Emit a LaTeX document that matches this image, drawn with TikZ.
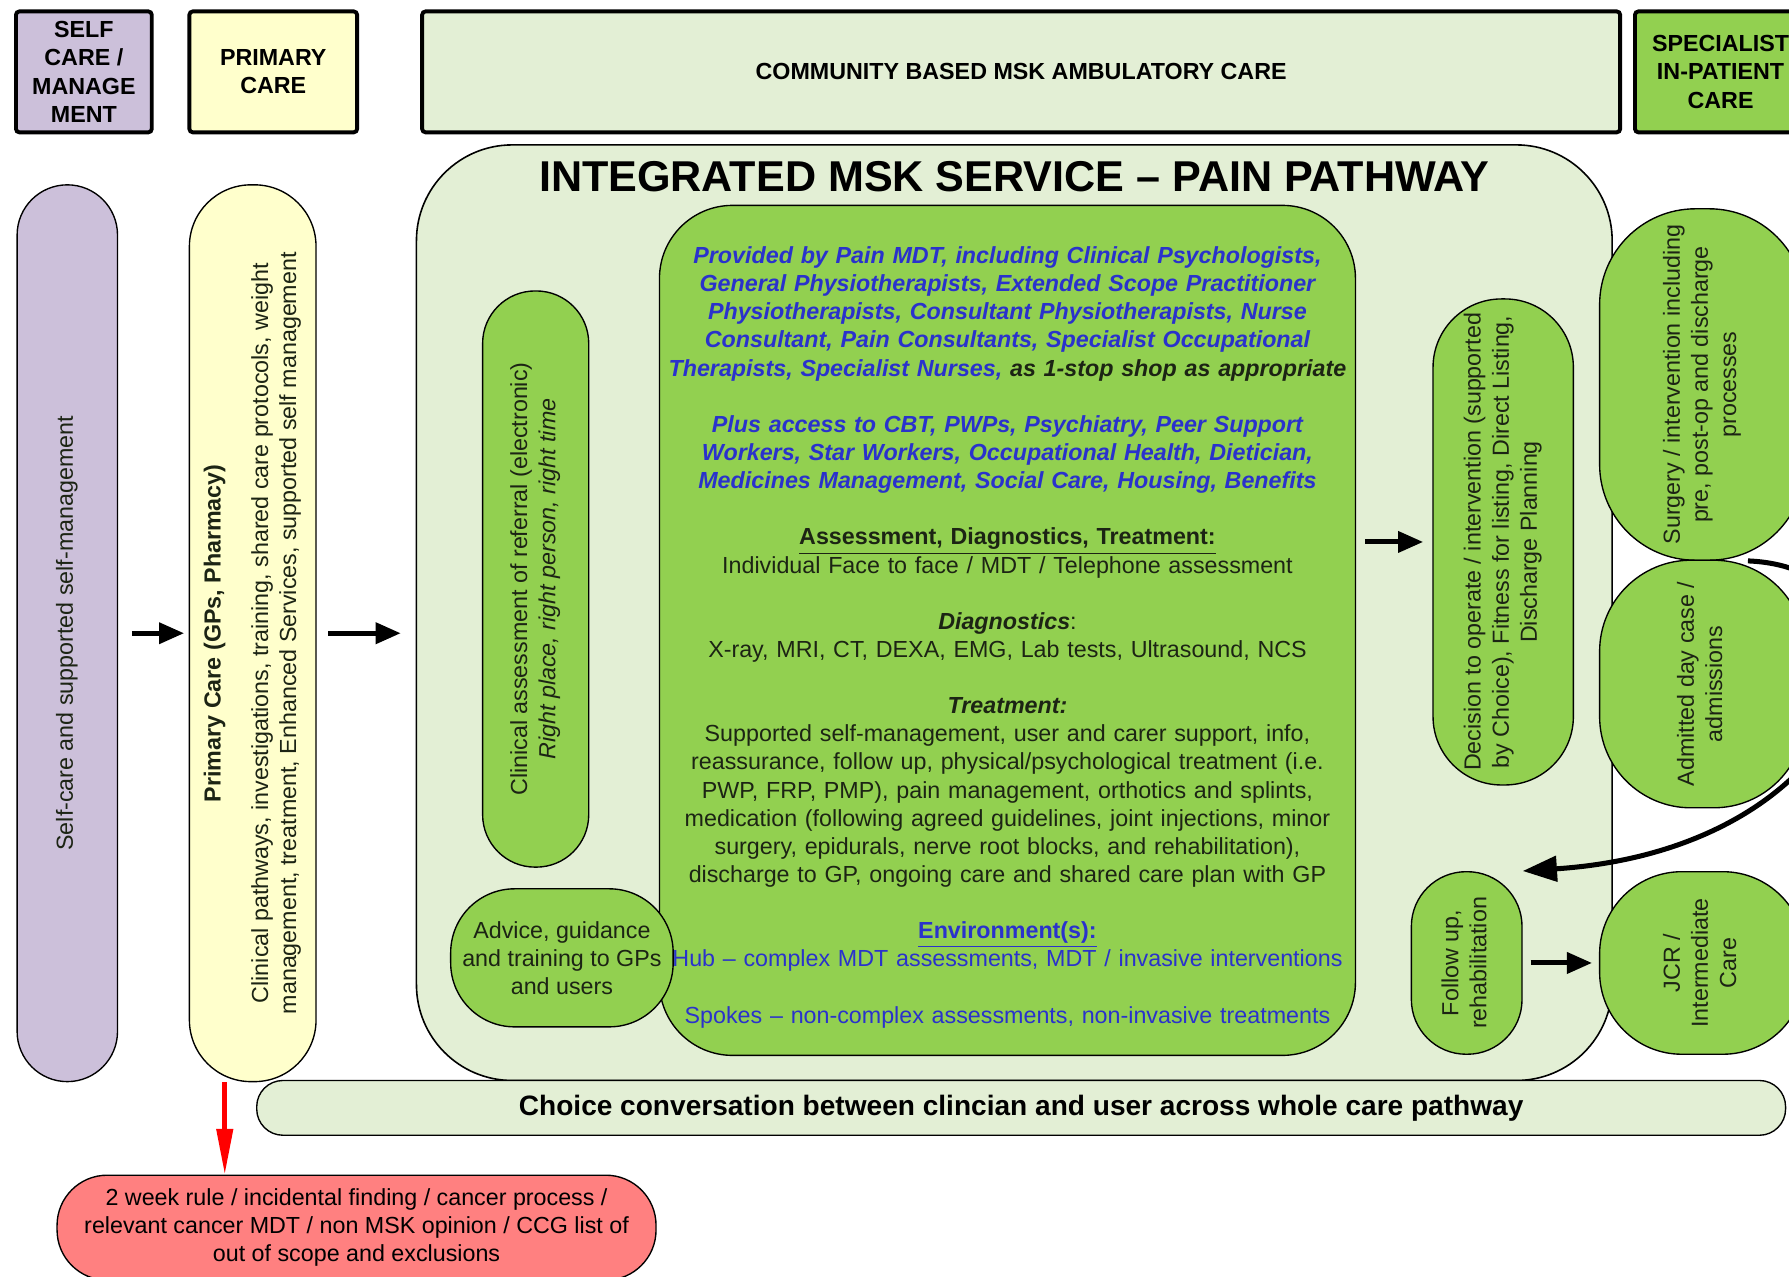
\documentclass[tikz,border=0pt]{standalone}
\usepackage{fontspec}
\setmainfont{Liberation Sans}
\usepackage{graphicx}
\usepackage{tikz}
\usetikzlibrary{arrows.meta}
\definecolor{figline}{RGB}{0,0,0}
\definecolor{selfcol}{RGB}{204,192,218}
\definecolor{primcol}{RGB}{255,255,204}
\definecolor{commcol}{RGB}{227,239,213}
\definecolor{speccol}{RGB}{146,208,80}
\definecolor{excol}{RGB}{255,128,128}
\definecolor{txtblue}{RGB}{42,50,204}
\definecolor{txtdark}{RGB}{28,36,20}
\newcommand{\vlines}[1]{\rotatebox{90}{\begin{tabular}{@{}c@{}}#1\end{tabular}}}
\tikzset{
  hdr/.style   ={draw=figline, line width=1.7pt, rounded corners=1.5pt, minimum height=53pt, align=center, inner sep=1pt, font=\fontsize{10.2}{12.4}\selectfont\bfseries},
  pill/.style  ={draw=figline, line width=0.6pt, inner sep=0pt, align=center, text=txtdark, font=\fontsize{10.2}{12.33}\selectfont},
  ptr/.style   ={draw=figline, line width=2.2pt, -{Triangle[length=11pt,width=9pt]}},
  ptrred/.style={draw=red, line width=2pt, -{Triangle[length=20pt,width=7pt]}},
  ptrbig/.style={draw=figline, line width=2.2pt, -{Triangle[length=15pt,width=11pt]}},
}
\begin{document}
\begin{tikzpicture}[x=0.5pt,y=-0.5pt]
  \useasboundingbox (0,0) rectangle (1568,1119);
  \clip (0,0) rectangle (1568,1119);
  \node[hdr, fill=selfcol, minimum width=59.5pt] (hself) at (73.5,63) {SELF\\CARE /\\MANAGE\\MENT};
  \node[hdr, fill=primcol, minimum width=73.5pt] (hprim) at (239.5,63) {PRIMARY\\CARE};
  \node[hdr, fill=commcol, minimum width=525pt] (hcomm) at (895,63) {COMMUNITY BASED MSK AMBULATORY CARE};
  \node[hdr, fill=speccol, minimum width=75pt] (hspec) at (1508,63) {SPECIALIST\\IN-PATIENT\\CARE};
  \node[pill, fill=selfcol, rounded corners=22pt, minimum width=44pt, minimum height=393pt] (selfpill) at (59,555)
    {\vlines{Self-care and supported self-management}};
  \node[pill, fill=primcol, rounded corners=27pt, minimum width=55.5pt, minimum height=393pt] (primpill) at (221.5,555)
    {\vlines{\textbf{Primary Care (GPs, Pharmacy)}\\[8.5pt]
      Clinical pathways, investigations, training, shared care protocols, weight\\
      management, treatment, Enhanced Services, supported self management}};
  \node[draw=figline, line width=0.7pt, fill=commcol, rounded corners=42pt, minimum width=524pt, minimum height=410pt] (intbox) at (889,537) {};
  \node[font=\fontsize{18.9}{21}\selectfont\bfseries] (title) at (889,155) {INTEGRATED MSK SERVICE – PAIN PATHWAY};
  \node[pill, fill=speccol, rounded corners=23pt, minimum width=46.5pt, minimum height=252.5pt] (clinpill) at (469.5,507.5)
    {\vlines{Clinical assessment of referral (electronic)\\ \textit{Right place, right person, right time}}};
  \node[pill, fill=speccol, rounded corners=32pt, text width=305pt, minimum height=372.5pt] (mainbox) at (883,552.5) {%
    {\color{txtblue}\bfseries\itshape \rule{0pt}{13.5pt}Provided by Pain MDT, including Clinical Psychologists,\\
    General Physiotherapists, Extended Scope Practitioner\\
    Physiotherapists, Consultant Physiotherapists, Nurse\\
    Consultant, Pain Consultants, Specialist Occupational\\
    Therapists, Specialist Nurses,}\textbf{\textit{ as 1-stop shop as appropriate}}\\[12.33pt]
    {\color{txtblue}\bfseries\itshape Plus access to CBT, PWPs, Psychiatry, Peer Support\\
    Workers, Star Workers, Occupational Health, Dietician,\\
    Medicines Management, Social Care, Housing, Benefits}\\[12.33pt]
    \underline{\textbf{Assessment, Diagnostics, Treatment:}}\\
    Individual Face to face / MDT / Telephone assessment\\[12.33pt]
    \textbf{\textit{Diagnostics}}:\\
    X-ray, MRI, CT, DEXA, EMG, Lab tests, Ultrasound, NCS\\[12.33pt]
    \textbf{\textit{Treatment:}}\\
    Supported self-management, user and carer support, info,\\
    reassurance, follow up, physical/psychological treatment (i.e.\\
    PWP, FRP, PMP), pain management, orthotics and splints,\\
    medication (following agreed guidelines, joint injections, minor\\
    surgery, epidurals, nerve root blocks, and rehabilitation),\\
    discharge to GP, ongoing care and shared care plan with GP\\[12.33pt]
    {\color{txtblue}\underline{\textbf{Environment(s):}}\\
    Hub – complex MDT assessments, MDT / invasive interventions\\[12.33pt]
    Spokes – non-complex assessments, non-invasive treatments}};
  \node[pill, fill=speccol, rounded corners=28pt, minimum width=97.5pt, minimum height=60.5pt] (advice) at (492.5,839.5)
    {Advice, guidance\\and training to GPs\\and users};
  \node[pill, fill=speccol, rounded corners=30pt, minimum width=61.5pt, minimum height=213pt] (decision) at (1317.5,475)
    {\vlines{Decision to operate / intervention (supported\\ by Choice), Fitness for listing, Direct Listing,\\ Discharge Planning}};
  \node[pill, fill=speccol, rounded corners=24pt, minimum width=48.5pt, minimum height=80pt] (follow) at (1285.5,844)
    {\vlines{Follow up,\\ rehabilitation}};
  \node[pill, fill=speccol, rounded corners=42pt, minimum width=90pt, minimum height=154pt] (surgery) at (1492,337)
    {\vlines{Surgery / intervention including\\ pre, post-op and discharge\\ processes}};
  \node[pill, fill=speccol, rounded corners=40pt, minimum width=90pt, minimum height=108.5pt] (admitted) at (1492,599.5)
    {\vlines{Admitted day case /\\ admissions}};
  \node[pill, fill=speccol, rounded corners=36pt, minimum width=90pt, minimum height=80pt] (jcr) at (1492,844)
    {\vlines{JCR /\\ Intermediate\\ Care}};
  \node[pill, fill=commcol, rounded corners=11.5pt, minimum width=670pt, minimum height=24pt, text=black, font=\fontsize{12.3}{14}\selectfont\bfseries] (choice) at (895,971)
    {Choice conversation between clincian and user across whole care pathway};
  \node[pill, fill=excol, rounded corners=22pt, minimum width=262.5pt, minimum height=46pt, text=black] (redbox) at (312.5,1076)
    {2 week rule / incidental finding / cancer process /\\relevant cancer MDT / non MSK opinion / CCG list of\\out of scope and exclusions};
  \coordinate (redsrc) at ([xshift=-12.25pt]primpill.south);
  \draw[ptr, shorten <=6pt, shorten >=2pt] (selfpill) -- (primpill);
  \draw[ptr, shorten <=5pt, shorten >=6.5pt] (primpill) -- (primpill -| intbox.west);
  \draw[ptr, shorten <=4pt, shorten >=4pt] (mainbox.east |- decision) -- (decision);
  \draw[ptr, shorten <=3.5pt, shorten >=3pt] (follow) -- (jcr);
  \draw[ptrred] (redsrc) -- (redsrc |- redbox.north);
  \draw[ptrbig] ([xshift=20pt]surgery.south) .. controls +(84pt,-3.5pt) and +(152.5pt,10pt) .. (follow.north east);
\end{tikzpicture}
\end{document}
